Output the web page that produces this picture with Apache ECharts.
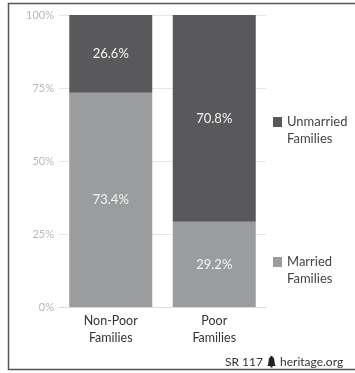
<!DOCTYPE html>
<html>
<head>
<meta charset="utf-8">
<style>
  html, body { margin: 0; padding: 0; background: #fff; }
  #chart { width: 355px; height: 373px; }
</style>
<script src="https://cdn.jsdelivr.net/npm/echarts@6/dist/echarts.min.js"></script>
</head>
<body>
<div id="chart"></div>
<script>
// Share of families by marital status, split by poverty status
const categories = ['Non-Poor\nFamilies', 'Poor\nFamilies'];
const married = [73.4, 29.2];
const unmarried = [26.6, 70.8];
const yTicks = [0, 25, 50, 75, 100];

const FONT = 'Lato';
const DARK = '#59595b';
const LIGHT = '#9b9c9e';

const chart = echarts.init(document.getElementById('chart'));

const barLabel = {
  show: true,
  position: 'inside',
  color: '#f4f4f4',
  fontFamily: FONT,
  fontSize: 13,
  formatter: p => p.value.toFixed(1) + '%'
};

// An empty leading line keeps the swatch level with the first word
const legendFormatter = n => '\n' + n.replace(' ', '\n');
const legendText = { color: '#444', fontFamily: FONT, fontSize: 13, lineHeight: 17 };

chart.setOption({
  animation: false,
  grid: { left: 59, width: 207, top: 15, bottom: 66 },
  xAxis: {
    type: 'category',
    data: categories,
    axisTick: { show: false },
    axisLine: { lineStyle: { color: '#dcdcdc', width: 1 } },
    axisLabel: {
      color: '#333',
      fontFamily: FONT,
      fontSize: 12.5,
      lineHeight: 17,
      margin: 5
    }
  },
  yAxis: {
    type: 'value',
    min: 0,
    max: 100,
    interval: 25,
    axisLine: { show: false },
    axisTick: { show: false },
    splitLine: { lineStyle: { color: '#e6e6e6', width: 1 } },
    axisLabel: {
      color: '#b8b8b8',
      fontFamily: FONT,
      fontSize: 11,
      margin: 5,
      formatter: v => (yTicks.includes(v) ? v + '%' : '')
    }
  },
  legend: [
    {
      data: ['Unmarried Families'],
      left: 273,
      top: 96.5,
      padding: 0,
      icon: 'rect',
      itemWidth: 9,
      itemHeight: 10,
      selectedMode: false,
      formatter: legendFormatter,
      textStyle: legendText
    },
    {
      data: ['Married Families'],
      left: 273,
      top: 236.5,
      padding: 0,
      icon: 'rect',
      itemWidth: 9,
      itemHeight: 10,
      selectedMode: false,
      formatter: legendFormatter,
      textStyle: legendText
    }
  ],
  series: [
    {
      name: 'Married Families',
      type: 'bar',
      stack: 'total',
      barWidth: 83,
      data: married,
      itemStyle: { color: LIGHT },
      label: barLabel
    },
    {
      name: 'Unmarried Families',
      type: 'bar',
      stack: 'total',
      barWidth: 83,
      data: unmarried,
      itemStyle: { color: DARK },
      label: barLabel
    }
  ],
  graphic: [
    {
      type: 'rect',
      shape: { x: 8.5, y: 3.5, width: 360, height: 366 },
      style: { fill: 'none', stroke: '#555', lineWidth: 1.5 },
      silent: true
    },
    {
      type: 'text',
      x: 263,
      y: 362,
      style: { text: 'SR 117', fill: '#333', font: '12px ' + FONT, textAlign: 'right', textVerticalAlign: 'middle' }
    },
    {
      // small bell mark between the report number and the site name
      type: 'polygon',
      shape: {
        points: [[270.5, 356], [272.5, 356], [272.5, 357], [274, 358], [275, 365], [276, 366], [267, 366], [268, 365], [269, 358], [270.5, 357]]
      },
      style: { fill: '#222' }
    },
    {
      type: 'rect',
      shape: { x: 270.5, y: 366, width: 2, height: 1.5 },
      style: { fill: '#222' }
    },
    {
      type: 'text',
      x: 280,
      y: 362,
      style: { text: 'heritage.org', fill: '#333', font: '12px ' + FONT, textVerticalAlign: 'middle' }
    }
  ]
});
</script>
</body>
</html>
